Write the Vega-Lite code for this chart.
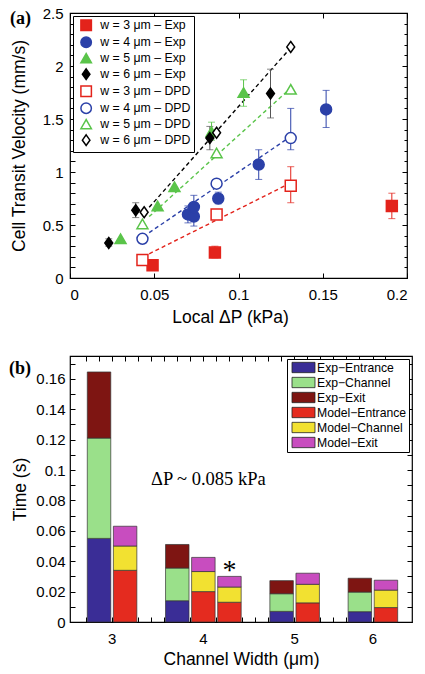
{
 "$schema": "https://vega.github.io/schema/vega-lite/v6.json",
 "padding": {"left": 8, "top": 5, "right": 2, "bottom": 2},
 "spacing": 27,
 "columns": 1,
 "align": "none",
 "resolve": {
  "scale": {"color": "independent"},
  "legend": {"color": "independent"}
 },
 "config": {
  "font": "Liberation Sans",
  "view": {"stroke": "#000", "strokeWidth": 1.2},
  "axis": {"grid": false, "domain": false, "tickColor": "#000", "tickSize": -5, "tickWidth": 1, "labelFont": "Liberation Sans", "labelFontSize": 15, "labelColor": "#000", "titleFont": "Liberation Sans", "titleFontSize": 17.5, "titleFontWeight": "normal", "titleColor": "#000"},
  "title": {"font": "Liberation Serif", "fontSize": 18, "fontWeight": "bold", "color": "#000", "anchor": "start", "frame": "bounds"}
 },
 "concat": [
  {
   "width": 337, "height": 265,
   "title": {"text": "(a)", "dx": 0, "dy": 22, "offset": 0},
   "data": {"values": [
    {"series": "w = 3 μm – Exp", "dp": 0.049, "v": 0.12},
    {"series": "w = 3 μm – Exp", "dp": 0.086, "v": 0.24, "lo": 0.19, "hi": 0.30},
    {"series": "w = 3 μm – Exp", "dp": 0.191, "v": 0.68, "lo": 0.56, "hi": 0.80},
    {"series": "w = 4 μm – Exp", "dp": 0.070, "v": 0.60, "lo": 0.52, "hi": 0.68},
    {"series": "w = 4 μm – Exp", "dp": 0.0735, "v": 0.58, "lo": 0.49, "hi": 0.66},
    {"series": "w = 4 μm – Exp", "dp": 0.0735, "v": 0.67, "lo": 0.58, "hi": 0.78},
    {"series": "w = 4 μm – Exp", "dp": 0.088, "v": 0.75, "lo": 0.70, "hi": 0.81},
    {"series": "w = 4 μm – Exp", "dp": 0.112, "v": 1.07, "lo": 0.93, "hi": 1.21},
    {"series": "w = 4 μm – Exp", "dp": 0.152, "v": 1.59, "lo": 1.42, "hi": 1.77},
    {"series": "w = 5 μm – Exp", "dp": 0.030, "v": 0.37},
    {"series": "w = 5 μm – Exp", "dp": 0.052, "v": 0.68},
    {"series": "w = 5 μm – Exp", "dp": 0.062, "v": 0.86},
    {"series": "w = 5 μm – Exp", "dp": 0.084, "v": 1.38, "lo": 1.30, "hi": 1.47},
    {"series": "w = 5 μm – Exp", "dp": 0.103, "v": 1.75, "lo": 1.62, "hi": 1.87},
    {"series": "w = 6 μm – Exp", "dp": 0.023, "v": 0.33, "lo": 0.30, "hi": 0.37},
    {"series": "w = 6 μm – Exp", "dp": 0.039, "v": 0.64, "lo": 0.57, "hi": 0.71},
    {"series": "w = 6 μm – Exp", "dp": 0.083, "v": 1.32, "lo": 1.21, "hi": 1.43},
    {"series": "w = 6 μm – Exp", "dp": 0.119, "v": 1.74, "lo": 1.51, "hi": 1.97},
    {"series": "w = 3 μm – DPD", "dp": 0.043, "v": 0.17},
    {"series": "w = 3 μm – DPD", "dp": 0.087, "v": 0.60},
    {"series": "w = 3 μm – DPD", "dp": 0.131, "v": 0.87, "lo": 0.71, "hi": 1.05},
    {"series": "w = 4 μm – DPD", "dp": 0.043, "v": 0.37},
    {"series": "w = 4 μm – DPD", "dp": 0.087, "v": 0.89},
    {"series": "w = 4 μm – DPD", "dp": 0.131, "v": 1.32, "lo": 1.21, "hi": 1.60},
    {"series": "w = 5 μm – DPD", "dp": 0.043, "v": 0.51},
    {"series": "w = 5 μm – DPD", "dp": 0.087, "v": 1.18},
    {"series": "w = 5 μm – DPD", "dp": 0.131, "v": 1.78},
    {"series": "w = 6 μm – DPD", "dp": 0.044, "v": 0.62},
    {"series": "w = 6 μm – DPD", "dp": 0.087, "v": 1.37},
    {"series": "w = 6 μm – DPD", "dp": 0.131, "v": 2.18}
   ]},
   "resolve": {"axis": {"x": "independent", "y": "independent"}},
   "layer": [
    {
     "transform": [
      {"filter": "indexof(datum.series, 'DPD') >= 0"},
      {"regression": "v", "on": "dp", "groupby": ["series"], "extent": [0.047, 0.131]}
     ],
     "mark": {"type": "line", "strokeDash": [4, 3], "strokeWidth": 1.4},
     "encoding": {
      "x": {"field": "dp", "type": "quantitative", "scale": {"domain": [0, 0.2], "nice": false}, "axis": {"orient": "top", "values": [0, 0.05, 0.1, 0.15, 0.2], "labels": false, "title": null}},
      "y": {"field": "v", "type": "quantitative", "scale": {"domain": [0, 2.5], "nice": false}, "axis": {"orient": "right", "values": [0,0.1,0.2,0.3,0.4,0.5,0.6,0.7,0.8,0.9,1,1.1,1.2,1.3,1.4,1.5,1.6,1.7,1.8,1.9,2,2.1,2.2,2.3,2.4,2.5], "labels": false, "title": null, "tickSize": {"condition": {"test": "round(datum.value*10) % 5 == 0", "value": -5}, "value": -3}}},
      "color": {"field": "series", "type": "nominal", "scale": {"domain": ["w = 3 μm – Exp", "w = 4 μm – Exp", "w = 5 μm – Exp", "w = 6 μm – Exp", "w = 3 μm – DPD", "w = 4 μm – DPD", "w = 5 μm – DPD", "w = 6 μm – DPD"], "range": ["#e3231b", "#2b40a8", "#5ac44a", "#555555", "#e3231b", "#2b40a8", "#5ac44a", "#000000"]}, "legend": null}
     }
    },
    {
     "transform": [{"filter": "isValid(datum.lo)"}],
     "mark": {"type": "errorbar", "ticks": {"size": 7}, "rule": {"strokeWidth": 1}},
     "encoding": {
      "x": {"field": "dp", "type": "quantitative", "scale": {"domain": [0, 0.2], "nice": false}, "axis": null},
      "y": {"field": "lo", "type": "quantitative", "scale": {"domain": [0, 2.5], "nice": false}, "axis": null},
      "y2": {"field": "hi"},
      "color": {"field": "series", "type": "nominal", "scale": {"domain": ["w = 3 μm – Exp", "w = 4 μm – Exp", "w = 5 μm – Exp", "w = 6 μm – Exp", "w = 3 μm – DPD", "w = 4 μm – DPD", "w = 5 μm – DPD", "w = 6 μm – DPD"], "range": ["#e3231b", "#2b40a8", "#5ac44a", "#555555", "#e3231b", "#2b40a8", "#5ac44a", "#000000"]}, "legend": null}
     }
    },
    {
     "mark": {"type": "point", "filled": true, "size": 120, "strokeWidth": 1.5, "opacity": 1},
     "encoding": {
      "x": {"field": "dp", "type": "quantitative", "scale": {"domain": [0, 0.2], "nice": false}, "axis": {"orient": "bottom", "values": [0, 0.05, 0.1, 0.15, 0.2], "format": "~g", "title": "Local ΔP (kPa)", "titleX": 160, "labelPadding": 14, "titlePadding": 6}},
      "y": {"field": "v", "type": "quantitative", "scale": {"domain": [0, 2.5], "nice": false}, "axis": {"orient": "left", "values": [0,0.1,0.2,0.3,0.4,0.5,0.6,0.7,0.8,0.9,1,1.1,1.2,1.3,1.4,1.5,1.6,1.7,1.8,1.9,2,2.1,2.2,2.3,2.4,2.5], "format": "~g", "labelExpr": "round(datum.value*10) % 5 == 0 ? datum.label : ''", "title": "Cell Transit Velocity (mm/s)", "labelPadding": 12, "minExtent": 34, "maxExtent": 34, "titlePadding": 8}},
      "shape": {"field": "series", "type": "nominal", "scale": {"domain": ["w = 3 μm – Exp", "w = 4 μm – Exp", "w = 5 μm – Exp", "w = 6 μm – Exp", "w = 3 μm – DPD", "w = 4 μm – DPD", "w = 5 μm – DPD", "w = 6 μm – DPD"], "range": ["square", "circle", "triangle-up", "M0,-1L0.72,0L0,1L-0.72,0Z", "square", "circle", "triangle-up", "M0,-1L0.72,0L0,1L-0.72,0Z"]}, "legend": {"orient": "top-left", "title": null, "offset": 3, "padding": 3, "strokeColor": "#000", "fillColor": "#fff", "labelFont": "Liberation Sans", "labelFontSize": 12.3, "labelColor": "#000", "symbolSize": 110, "symbolOffset": 4, "symbolStrokeWidth": 1.5, "rowPadding": -1, "labelOffset": 8}},
      "fill": {"field": "series", "type": "nominal", "scale": {"domain": ["w = 3 μm – Exp", "w = 4 μm – Exp", "w = 5 μm – Exp", "w = 6 μm – Exp", "w = 3 μm – DPD", "w = 4 μm – DPD", "w = 5 μm – DPD", "w = 6 μm – DPD"], "range": ["#e3231b", "#2b40a8", "#5ac44a", "#000000", "#ffffff", "#ffffff", "#ffffff", "#ffffff"]}, "legend": {"orient": "top-left", "title": null, "offset": 3, "padding": 3, "strokeColor": "#000", "fillColor": "#fff", "labelFont": "Liberation Sans", "labelFontSize": 12.3, "labelColor": "#000", "symbolSize": 110, "symbolOffset": 4, "symbolStrokeWidth": 1.5, "rowPadding": -1, "labelOffset": 8}},
      "stroke": {"field": "series", "type": "nominal", "scale": {"domain": ["w = 3 μm – Exp", "w = 4 μm – Exp", "w = 5 μm – Exp", "w = 6 μm – Exp", "w = 3 μm – DPD", "w = 4 μm – DPD", "w = 5 μm – DPD", "w = 6 μm – DPD"], "range": ["#e3231b", "#2b40a8", "#5ac44a", "#000000", "#e3231b", "#2b40a8", "#5ac44a", "#000000"]}, "legend": {"orient": "top-left", "title": null, "offset": 3, "padding": 3, "strokeColor": "#000", "fillColor": "#fff", "labelFont": "Liberation Sans", "labelFontSize": 12.3, "labelColor": "#000", "symbolSize": 110, "symbolOffset": 4, "symbolStrokeWidth": 1.5, "rowPadding": -1, "labelOffset": 8}}
     }
    }
   ]
  },
  {
   "width": 342, "height": 266,
   "title": {"text": "(b)", "dx": -2, "dy": 22, "offset": 0},
   "data": {"values": [
    {"bar": "3 Exp", "key": "Exp−Entrance", "k": 1, "t": 0.055},
    {"bar": "3 Exp", "key": "Exp−Channel", "k": 2, "t": 0.066},
    {"bar": "3 Exp", "key": "Exp−Exit", "k": 3, "t": 0.0435},
    {"bar": "3 Model", "key": "Model−Entrance", "k": 1, "t": 0.034},
    {"bar": "3 Model", "key": "Model−Channel", "k": 2, "t": 0.016},
    {"bar": "3 Model", "key": "Model−Exit", "k": 3, "t": 0.013},
    {"bar": "4 Exp", "key": "Exp−Entrance", "k": 1, "t": 0.014},
    {"bar": "4 Exp", "key": "Exp−Channel", "k": 2, "t": 0.0215},
    {"bar": "4 Exp", "key": "Exp−Exit", "k": 3, "t": 0.0155},
    {"bar": "4 Model", "key": "Model−Entrance", "k": 1, "t": 0.020},
    {"bar": "4 Model", "key": "Model−Channel", "k": 2, "t": 0.0132},
    {"bar": "4 Model", "key": "Model−Exit", "k": 3, "t": 0.0093},
    {"bar": "4 Model*", "key": "Model−Entrance", "k": 1, "t": 0.013},
    {"bar": "4 Model*", "key": "Model−Channel", "k": 2, "t": 0.010},
    {"bar": "4 Model*", "key": "Model−Exit", "k": 3, "t": 0.007},
    {"bar": "5 Exp", "key": "Exp−Entrance", "k": 1, "t": 0.007},
    {"bar": "5 Exp", "key": "Exp−Channel", "k": 2, "t": 0.0116},
    {"bar": "5 Exp", "key": "Exp−Exit", "k": 3, "t": 0.0086},
    {"bar": "5 Model", "key": "Model−Entrance", "k": 1, "t": 0.0126},
    {"bar": "5 Model", "key": "Model−Channel", "k": 2, "t": 0.0122},
    {"bar": "5 Model", "key": "Model−Exit", "k": 3, "t": 0.0073},
    {"bar": "6 Exp", "key": "Exp−Entrance", "k": 1, "t": 0.0068},
    {"bar": "6 Exp", "key": "Exp−Channel", "k": 2, "t": 0.0129},
    {"bar": "6 Exp", "key": "Exp−Exit", "k": 3, "t": 0.0091},
    {"bar": "6 Model", "key": "Model−Entrance", "k": 1, "t": 0.0095},
    {"bar": "6 Model", "key": "Model−Channel", "k": 2, "t": 0.0115},
    {"bar": "6 Model", "key": "Model−Exit", "k": 3, "t": 0.0065}
   ]},
   "resolve": {"axis": {"x": "independent", "y": "independent"}},
   "layer": [
    {
     "transform": [{"filter": "indexof(datum.bar, 'Exp') >= 0"}],
     "mark": {"type": "bar", "stroke": "#333", "strokeWidth": 0.7},
     "encoding": {
      "x": {"field": "bar", "type": "nominal", "scale": {"domain": ["3 Exp", "3 Model", "g1", "4 Exp", "4 Model", "4 Model*", "g2", "5 Exp", "5 Model", "g3", "6 Exp", "6 Model"], "paddingInner": 0.1, "paddingOuter": 0.606, "align": 0.547}, "axis": {"orient": "bottom", "bandPosition": 0.5, "labelAngle": 0, "labelExpr": "datum.value == '3 Model' ? '3' : datum.value == '4 Model' ? '4' : datum.value == '5 Model' ? '5' : datum.value == '6 Model' ? '6' : ''", "labelOffset": {"condition": {"test": "datum.value == '4 Model'", "value": 0}, "value": -13}, "labelPadding": 14, "title": "Channel Width (μm)", "titlePadding": 4}},
      "y": {"field": "t", "type": "quantitative", "stack": "zero", "scale": {"domain": [0, 0.175], "nice": false}, "axis": {"orient": "left", "values": [0,0.01,0.02,0.03,0.04,0.05,0.06,0.07,0.08,0.09,0.1,0.11,0.12,0.13,0.14,0.15,0.16,0.17], "format": "~g", "labelExpr": "round(datum.value*100) % 2 == 0 ? datum.label : ''", "title": "Time (s)", "labelPadding": 10, "minExtent": 36, "maxExtent": 36, "titlePadding": 5}},
      "color": {"field": "key", "type": "nominal", "scale": {"domain": ["Exp−Entrance", "Exp−Channel", "Exp−Exit", "Model−Entrance", "Model−Channel", "Model−Exit"], "range": ["#3a2d96", "#9ae08a", "#7e1512", "#e42b1f", "#f2e131", "#c84dbf"]}, "legend": {"orient": "top-right", "title": null, "offset": 3, "padding": 2, "strokeColor": "#000", "fillColor": "#fff", "labelFont": "Liberation Sans", "labelFontSize": 12.2, "labelColor": "#000", "symbolType": "M-2,-0.9H2V0.9H-2Z", "symbolSize": 132, "symbolOffset": 8, "symbolStrokeColor": "#222", "symbolStrokeWidth": 0.8, "rowPadding": 0, "labelOffset": 7}},
      "order": {"field": "k", "type": "quantitative"}
     }
    },
    {
     "transform": [{"filter": "indexof(datum.bar, 'Model') >= 0"}],
     "mark": {"type": "bar", "stroke": "#333", "strokeWidth": 0.7},
     "encoding": {
      "x": {"field": "bar", "type": "nominal", "scale": {"domain": ["3 Exp", "3 Model", "g1", "4 Exp", "4 Model", "4 Model*", "g2", "5 Exp", "5 Model", "g3", "6 Exp", "6 Model"], "paddingInner": 0.1, "paddingOuter": 0.606, "align": 0.547}, "axis": {"orient": "bottom", "bandPosition": -0.05, "labels": false, "title": null}},
      "y": {"field": "t", "type": "quantitative", "stack": "zero", "scale": {"domain": [0, 0.175], "nice": false}, "axis": {"orient": "right", "values": [0,0.01,0.02,0.03,0.04,0.05,0.06,0.07,0.08,0.09,0.1,0.11,0.12,0.13,0.14,0.15,0.16,0.17], "labels": false, "title": null}},
      "color": {"field": "key", "type": "nominal", "scale": {"domain": ["Exp−Entrance", "Exp−Channel", "Exp−Exit", "Model−Entrance", "Model−Channel", "Model−Exit"], "range": ["#3a2d96", "#9ae08a", "#7e1512", "#e42b1f", "#f2e131", "#c84dbf"]}, "legend": {"orient": "top-right", "title": null, "offset": 3, "padding": 2, "strokeColor": "#000", "fillColor": "#fff", "labelFont": "Liberation Sans", "labelFontSize": 12.2, "labelColor": "#000", "symbolType": "M-2,-0.9H2V0.9H-2Z", "symbolSize": 132, "symbolOffset": 8, "symbolStrokeColor": "#222", "symbolStrokeWidth": 0.8, "rowPadding": 0, "labelOffset": 7}},
      "order": {"field": "k", "type": "quantitative"}
     }
    },
    {
     "data": {"values": [{}]},
     "mark": {"type": "text", "text": "ΔP ~ 0.085 kPa", "font": "Liberation Serif", "fontSize": 18.5, "baseline": "middle", "dx": 5, "color": "#000"},
     "encoding": {
      "x": {"datum": "4 Model", "type": "nominal", "scale": {"domain": ["3 Exp", "3 Model", "g1", "4 Exp", "4 Model", "4 Model*", "g2", "5 Exp", "5 Model", "g3", "6 Exp", "6 Model"], "paddingInner": 0.1, "paddingOuter": 0.606, "align": 0.547}, "axis": {"orient": "top", "bandPosition": 0.5, "labels": false, "title": null}},
      "y": {"datum": 0.094, "type": "quantitative", "scale": {"domain": [0, 0.175], "nice": false}, "axis": null}
     }
    },
    {
     "data": {"values": [{}]},
     "mark": {"type": "text", "text": "*", "font": "Liberation Serif", "fontSize": 28, "baseline": "alphabetic", "color": "#000"},
     "encoding": {
      "x": {"datum": "4 Model*", "type": "nominal", "scale": {"domain": ["3 Exp", "3 Model", "g1", "4 Exp", "4 Model", "4 Model*", "g2", "5 Exp", "5 Model", "g3", "6 Exp", "6 Model"], "paddingInner": 0.1, "paddingOuter": 0.606, "align": 0.547}, "axis": {"orient": "top", "bandPosition": -0.05, "labels": false, "title": null}},
      "y": {"datum": 0.028, "type": "quantitative", "scale": {"domain": [0, 0.175], "nice": false}, "axis": null}
     }
    }
   ]
  }
 ]
}
